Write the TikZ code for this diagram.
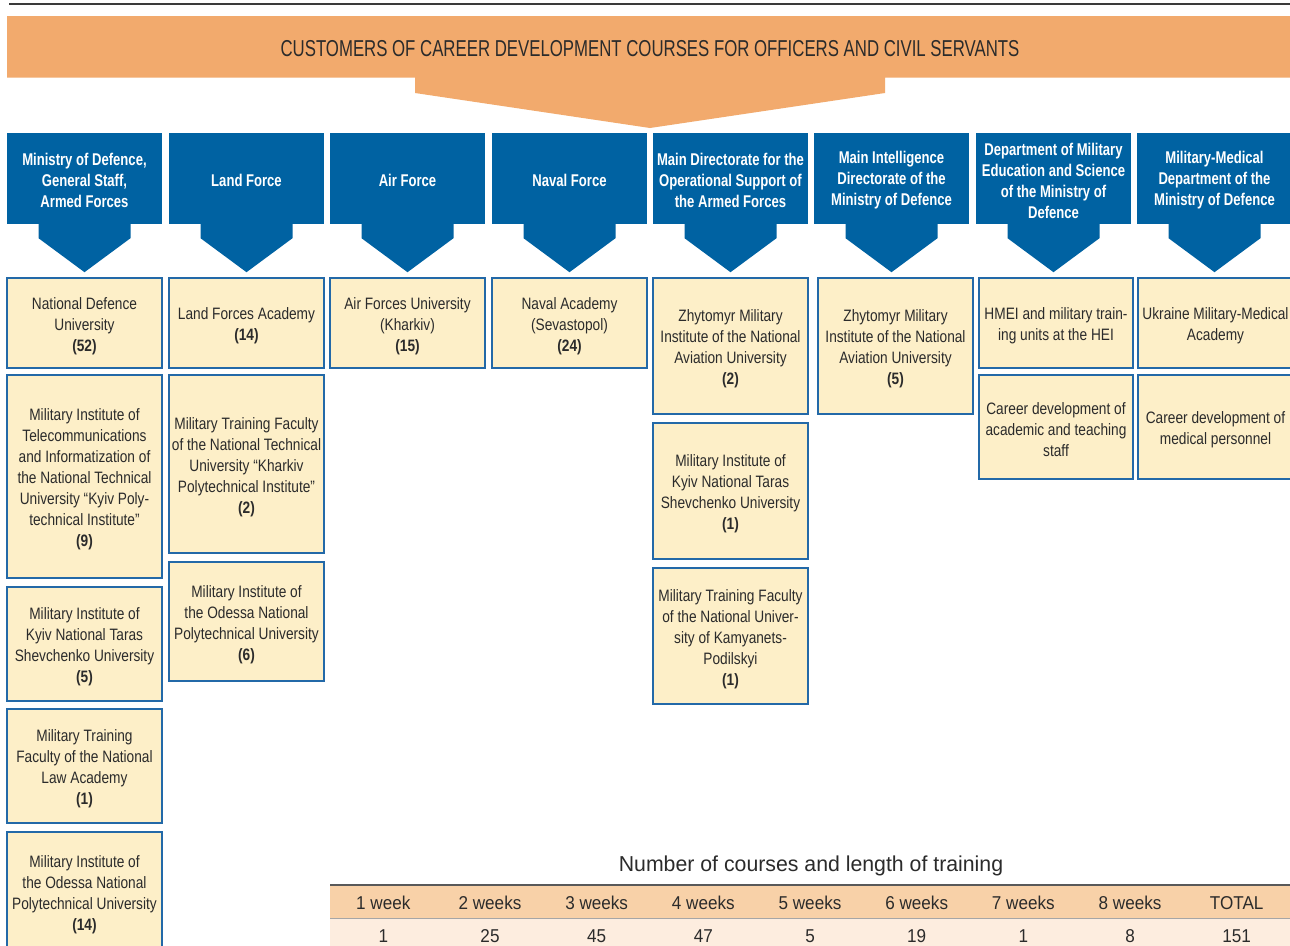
\documentclass[tikz,border=0pt]{standalone}
\usepackage{fontspec}
\setmainfont{Liberation Sans}
\newfontfamily\bodyf{Liberation Sans}[FakeStretch=0.83]
\newfontfamily\headf{Liberation Sans}[FakeStretch=0.77]
\newfontfamily\banf{Liberation Sans}[FakeStretch=0.73]
\newfontfamily\tabf{Liberation Sans}[FakeStretch=0.92]
\newfontfamily\titf{Liberation Sans}[FakeStretch=0.985]
\usetikzlibrary{calc}
\definecolor{bannerc}{HTML}{F2AA6D}
\definecolor{hblue}{HTML}{0062A2}
\definecolor{yfill}{HTML}{FDEFC8}
\definecolor{ybord}{HTML}{2369A8}
\definecolor{thead}{HTML}{F8D1A8}
\definecolor{tdata}{HTML}{FDEDDF}
\definecolor{txt}{HTML}{2B2B2B}
\definecolor{topline}{HTML}{3A3A3A}
\tikzset{
  hdrbox/.style={fill=hblue, inner sep=0pt, minimum height=91pt},
  hdrtext/.style={text=white, align=center, inner sep=0pt,
    font=\headf\bfseries\fontsize{17}{21}\selectfont},
  ybox/.style={draw=ybord, fill=yfill, line width=1.2pt, inner sep=0pt},
  ytext/.style={text=txt, align=center, inner sep=0pt,
    font=\bodyf\fontsize{16.5}{21}\selectfont},
  bantext/.style={text=txt, font=\banf\fontsize{23}{26}\selectfont, inner sep=0pt},
  tabtext/.style={text=txt, font=\tabf\fontsize{18.6}{22}\selectfont, inner sep=0pt},
  tittext/.style={text=txt, font=\titf\fontsize{21.6}{25}\selectfont, inner sep=0pt}
}
\newcommand\hdr[4]{%
  \pgfmathsetmacro\hw{#3-#2}%
  \pgfmathsetmacro\hc{(#3+#2)/2}%
  \node[hdrbox, minimum width=\hw pt] (#1) at (\hc,178.5) {};
  \node[hdrtext] (#1t) at ($(#1.center)+(0,2)$) {#4};
  \fill[hblue] ($(#1.south)+(-46,-0.5)$) -- ($(#1.south)+(-46,14)$) --
    ($(#1.south)+(0,48)$) -- ($(#1.south)+(46,14)$) -- ($(#1.south)+(46,-0.5)$) -- cycle;}
\newcommand\yb[6]{%
  \pgfmathsetmacro\yw{#4-#2}%
  \pgfmathsetmacro\yh{#5-#3}%
  \pgfmathsetmacro\yx{(#4+#2)/2}%
  \pgfmathsetmacro\yy{(#5+#3)/2}%
  \node[ybox, minimum width=\yw pt, minimum height=\yh pt] (#1) at (\yx,\yy) {};
  \node[ytext] (#1t) at ($(#1.center)+(0,3)$) {#6};}
\begin{document}
\begin{tikzpicture}[x=1pt,y=-1pt]
\useasboundingbox (0,0) rectangle (1290,945);
\fill[white] (0,0) rectangle (1290,945);
\draw[line width=1.5pt, topline] (9,4) -- (1290,4);
% banner
\fill[bannerc] (7,16) -- (1292,16) -- (1292,77.5) -- (885,77.5) -- (885,93) -- (650,128)
  -- (415,93) -- (415,77.5) -- (7,77.5) -- cycle;
\node[bantext] (bantitle) at (650,49) {CUSTOMERS OF CAREER DEVELOPMENT COURSES FOR OFFICERS AND CIVIL SERVANTS};
% headers
\hdr{h1}{7}{162}{Ministry of Defence,\\General Staff,\\Armed Forces}
\hdr{h2}{169}{324}{Land Force}
\hdr{h3}{330}{485}{Air Force}
\hdr{h4}{492}{647}{Naval Force}
\hdr{h5}{653}{808}{Main Directorate for the\\Operational Support of\\the Armed Forces}
\hdr{h6}{814}{969}{Main Intelligence\\Directorate of the\\Ministry of Defence}
\hdr{h7}{976}{1131}{Department of Military\\Education and Science\\of the Ministry of\\Defence}
\hdr{h8}{1137}{1292}{Military-Medical\\Department of the\\Ministry of Defence}
% column 1
\yb{a1}{7}{278}{162}{368}{National Defence\\University\\\textbf{(52)}}
\yb{a2}{7}{375}{162}{578}{Military Institute of\\Telecommunications\\and Informatization of\\the National Technical\\University “Kyiv Poly-\\technical Institute”\\\textbf{(9)}}
\yb{a3}{7}{587}{162}{701}{Military Institute of\\Kyiv National Taras\\Shevchenko University\\\textbf{(5)}}
\yb{a4}{7}{709}{162}{823}{Military Training\\Faculty of the National\\Law Academy\\\textbf{(1)}}
\yb{a5}{7}{832}{162}{952}{Military Institute of\\the Odessa National\\Polytechnical University\\\textbf{(14)}}
% column 2
\yb{b1}{169}{278}{324}{368}{Land Forces Academy\\\textbf{(14)}}
\yb{b2}{169}{375}{324}{553}{Military Training Faculty\\of the National Technical\\University “Kharkiv\\Polytechnical Institute”\\\textbf{(2)}}
\yb{b3}{169}{562}{324}{681}{Military Institute of\\the Odessa National\\Polytechnical University\\\textbf{(6)}}
% column 3, 4
\yb{c1}{330}{278}{485}{368}{Air Forces University\\(Kharkiv)\\\textbf{(15)}}
\yb{d1}{492}{278}{647}{368}{Naval Academy\\(Sevastopol)\\\textbf{(24)}}
% column 5
\yb{e1}{653}{278}{808}{414}{Zhytomyr Military\\Institute of the National\\Aviation University\\\textbf{(2)}}
\yb{e2}{653}{423}{808}{559}{Military Institute of\\Kyiv National Taras\\Shevchenko University\\\textbf{(1)}}
\yb{e3}{653}{568}{808}{704}{Military Training Faculty\\of the National Univer-\\sity of Kamyanets-\\Podilskyi\\\textbf{(1)}}
% column 6
\yb{f1}{818}{278}{973}{414}{Zhytomyr Military\\Institute of the National\\Aviation University\\\textbf{(5)}}
% column 7
\yb{g1}{979}{278}{1133}{368}{HMEI and military train-\\ing units at the HEI}
\yb{g2}{979}{375}{1133}{479}{Career development of\\academic and teaching\\staff}
% column 8
\yb{k1}{1138}{278}{1293}{368}{Ukraine Military-Medical\\Academy}
\yb{k2}{1138}{375}{1293}{479}{Career development of\\medical personnel}
% table
\node[tittext] (ttitle) at (811,866) {Number of courses and length of training};
\fill[thead] (330,885) rectangle (1292,918);
\fill[tdata] (330,918) rectangle (1292,947);
\draw[line width=2pt, gray!70!black] (330,885) -- (1292,885);
\draw[line width=0.8pt, gray!70] (330,918.5) -- (1292,918.5);
\foreach \lab [count=\i] in {1 week,2 weeks,3 weeks,4 weeks,5 weeks,6 weeks,7 weeks,8 weeks,TOTAL}{
  \pgfmathsetmacro\tx{330+(\i-0.5)*106.67}
  \node[tabtext] (th\i) at (\tx,903) {\lab};
}
\foreach \val [count=\i] in {1,25,45,47,5,19,1,8,151}{
  \pgfmathsetmacro\tx{330+(\i-0.5)*106.67}
  \node[tabtext] (td\i) at (\tx,936) {\val};
}
\end{tikzpicture}
\end{document}
